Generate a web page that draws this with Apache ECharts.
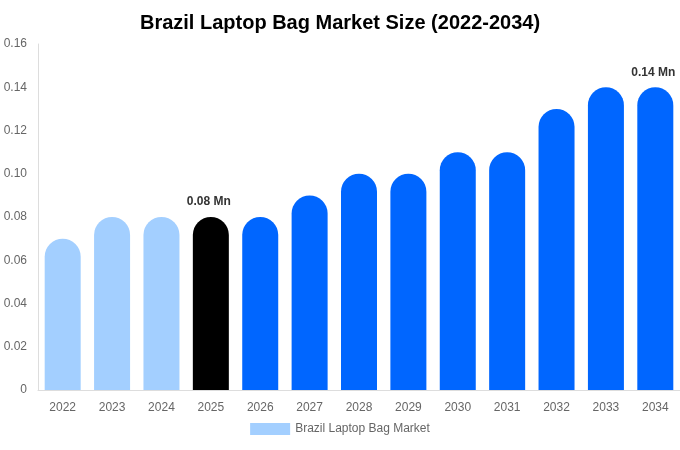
<!DOCTYPE html>
<html><head><meta charset="utf-8">
<script src="https://cdn.jsdelivr.net/npm/echarts@6/dist/echarts.min.js"></script>
<style>html,body{margin:0;padding:0;background:#fff}#c{width:680px;height:450px}</style>
</head><body><div id="c"></div>
<script>
const categories = ['2022','2023','2024','2025','2026','2027','2028','2029','2030','2031','2032','2033','2034'];
const values = [0.07,0.08,0.08,0.08,0.08,0.09,0.10,0.10,0.11,0.11,0.13,0.14,0.14];
const barColors = ['#a3cfff','#a3cfff','#a3cfff','#000000','#0066ff','#0066ff','#0066ff','#0066ff','#0066ff','#0066ff','#0066ff','#0066ff','#0066ff'];
const labeledIdx = [3,12];
const seriesName = 'Brazil Laptop Bag Market';
const chart = echarts.init(document.getElementById('c'));
chart.setOption({
  animation:false,
  title:{text:'Brazil Laptop Bag Market Size (2022-2034)',left:'center',top:8,textStyle:{fontFamily:'Liberation Sans, Arial',fontSize:20,fontWeight:'bold',color:'#000'}},
  legend:{bottom:10,left:'center',itemWidth:40,itemHeight:12,itemGap:6,icon:'rect',textStyle:{fontFamily:'Liberation Sans, Arial',fontSize:12,color:'#666'},data:[{name:seriesName,itemStyle:{color:'#a3cfff'}}]},
  grid:{left:38,right:0,top:44,bottom:60},
  xAxis:{type:'category',data:categories,axisLine:{lineStyle:{color:'#ddd'}},axisTick:{show:false},axisLabel:{color:'#666',fontSize:12,fontFamily:'Liberation Sans, Arial',margin:12}},
  yAxis:{type:'value',min:0,max:0.16,interval:0.02,splitLine:{show:false},axisLine:{show:true,lineStyle:{color:'#ddd'}},axisTick:{show:false},axisLabel:{color:'#666',fontSize:12,fontFamily:'Liberation Sans, Arial',margin:11,formatter:v=>v===0?'0':v.toFixed(2)}},
  series:[{name:seriesName,type:'bar',barWidth:36,
    data:values.map((v,i)=>({value:v,itemStyle:{color:barColors[i],borderRadius:[18,18,0,0]},
      label:{show:labeledIdx.includes(i),position:'top',distance:9,offset:[-2,0],formatter:p=>p.value.toFixed(2)+' Mn',fontWeight:'bold',fontSize:12,color:'#333',fontFamily:'Liberation Sans, Arial'}}))
  }]
});
</script></body></html>
